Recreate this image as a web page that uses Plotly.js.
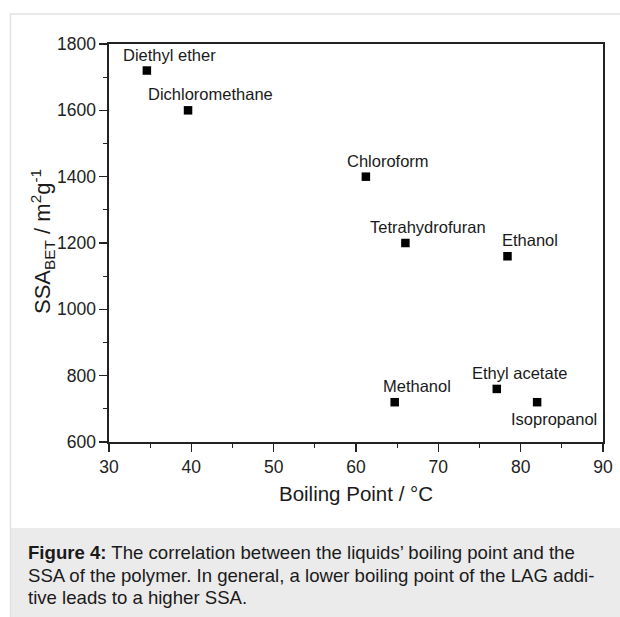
<!DOCTYPE html>
<html>
<head>
<meta charset="utf-8">
<script src="https://cdn.plot.ly/plotly-3.0.1.min.js"></script>
<style>html,body{margin:0;padding:0;background:#fff;}#chart{width:620px;height:617px;}</style>
</head>
<body>
<div id="chart"></div>
<script>
// Data
const solvents = ["Diethyl ether","Dichloromethane","Chloroform","Tetrahydrofuran","Ethanol","Methanol","Ethyl acetate","Isopropanol"];
const boilingPoint = [34.6, 39.6, 61.2, 66.0, 78.4, 64.7, 77.1, 82.0];
const ssaBET = [1720, 1600, 1400, 1200, 1160, 720, 760, 720];
const xTicks = [30, 40, 50, 60, 70, 80, 90];
const yTicks = [600, 800, 1000, 1200, 1400, 1600, 1800];
const xTitle = 'Boiling Point / \u00b0C';
const yTitle = 'SSA<sub>BET</sub> / m<sup>2</sup>g<sup>-1</sup>';
const captionLines = [
  "<b>Figure 4:</b> The correlation between the liquids\u2019 boiling point and the",
  "SSA of the polymer. In general, a lower boiling point of the LAG addi-",
  "tive leads to a higher SSA."
];

const W = 620, H = 617;
const M = {l: 109, r: 17, t: 44, b: 175};
const pw = W - M.l - M.r, ph = H - M.t - M.b;
const px = v => (v - M.l) / pw;
const py = v => (H - M.b - v) / ph;
const FONT = "Liberation Sans, Arial, Helvetica, sans-serif";
const below = new Set(["Isopropanol"]);

const annotations = solvents.map((name, i) => below.has(name) ? {
  x: boilingPoint[i], y: ssaBET[i], xref: 'x', yref: 'y', text: name, showarrow: false,
  xanchor: 'center', yanchor: 'top', xshift: 16.5, yshift: -6,
  font: {family: FONT, size: 16.5, color: '#1a1a1a'}
} : {
  x: boilingPoint[i], y: ssaBET[i], xref: 'x', yref: 'y', text: name, showarrow: false,
  xanchor: 'center', yanchor: 'bottom', xshift: 22.5, yshift: 5,
  font: {family: FONT, size: 16.5, color: '#1a1a1a'}
});

// y-axis title drawn as rotated annotation
annotations.push({
  xref: 'paper', yref: 'paper', x: px(42), y: py(242), xanchor: 'center', yanchor: 'middle',
  textangle: -90, text: yTitle, showarrow: false,
  font: {family: FONT, size: 22, color: '#1a1a1a'}
});

const lineCenters = [552, 575, 597.5];
captionLines.forEach((t, i) => annotations.push({
  xref: 'paper', yref: 'paper', x: px(25.5), y: py(lineCenters[i]),
  xanchor: 'left', yanchor: 'middle', text: t, showarrow: false, align: 'left',
  font: {family: FONT, size: 18.6, color: '#1a1a1a'}
}));

const shapes = [
  {type: 'rect', xref: 'paper', yref: 'paper', x0: px(11), x1: px(620), y0: py(528), y1: py(617),
   fillcolor: '#ebebeb', line: {width: 0}, layer: 'below'},
  {type: 'line', xref: 'paper', yref: 'paper', x0: px(10.5), x1: px(10.5), y0: py(13.5), y1: py(617),
   line: {color: '#e2e2e2', width: 1.5}},
  {type: 'line', xref: 'paper', yref: 'paper', x0: px(10), x1: px(620), y0: py(14), y1: py(14),
   line: {color: '#e2e2e2', width: 1.5}}
];

const trace = {
  type: 'scatter', mode: 'markers', x: boilingPoint, y: ssaBET, text: solvents,
  marker: {symbol: 'square', size: 8.5, color: '#000'}, hoverinfo: 'text'
};

const axisCommon = {
  showgrid: false, zeroline: false, showline: true, linecolor: '#222', linewidth: 1.6,
  mirror: true, ticks: 'outside', ticklen: 8, tickwidth: 1.4, tickcolor: '#222',
  tickfont: {family: FONT, size: 17.5, color: '#222'}
};

const layout = {
  width: W, height: H, margin: M, paper_bgcolor: '#fff', plot_bgcolor: '#fff',
  showlegend: false, font: {family: FONT},
  xaxis: Object.assign({}, axisCommon, {
    range: [30, 90], tickvals: xTicks, ticktext: xTicks.map(String),
    minor: {dtick: 5, tick0: 30, ticks: 'outside', ticklen: 4, tickwidth: 1.2, tickcolor: '#222', showgrid: false},
    title: {text: xTitle, font: {family: FONT, size: 20.5, color: '#1a1a1a'}, standoff: 11}
  }),
  yaxis: Object.assign({}, axisCommon, {
    range: [600, 1800], tickvals: yTicks, ticktext: yTicks.map(String),
    minor: {dtick: 100, tick0: 600, ticks: 'outside', ticklen: 4, tickwidth: 1.2, tickcolor: '#222', showgrid: false}
  }),
  annotations: annotations,
  shapes: shapes
};

Plotly.newPlot('chart', [trace], layout, {displayModeBar: false, staticPlot: true});
</script>
</body>
</html>
